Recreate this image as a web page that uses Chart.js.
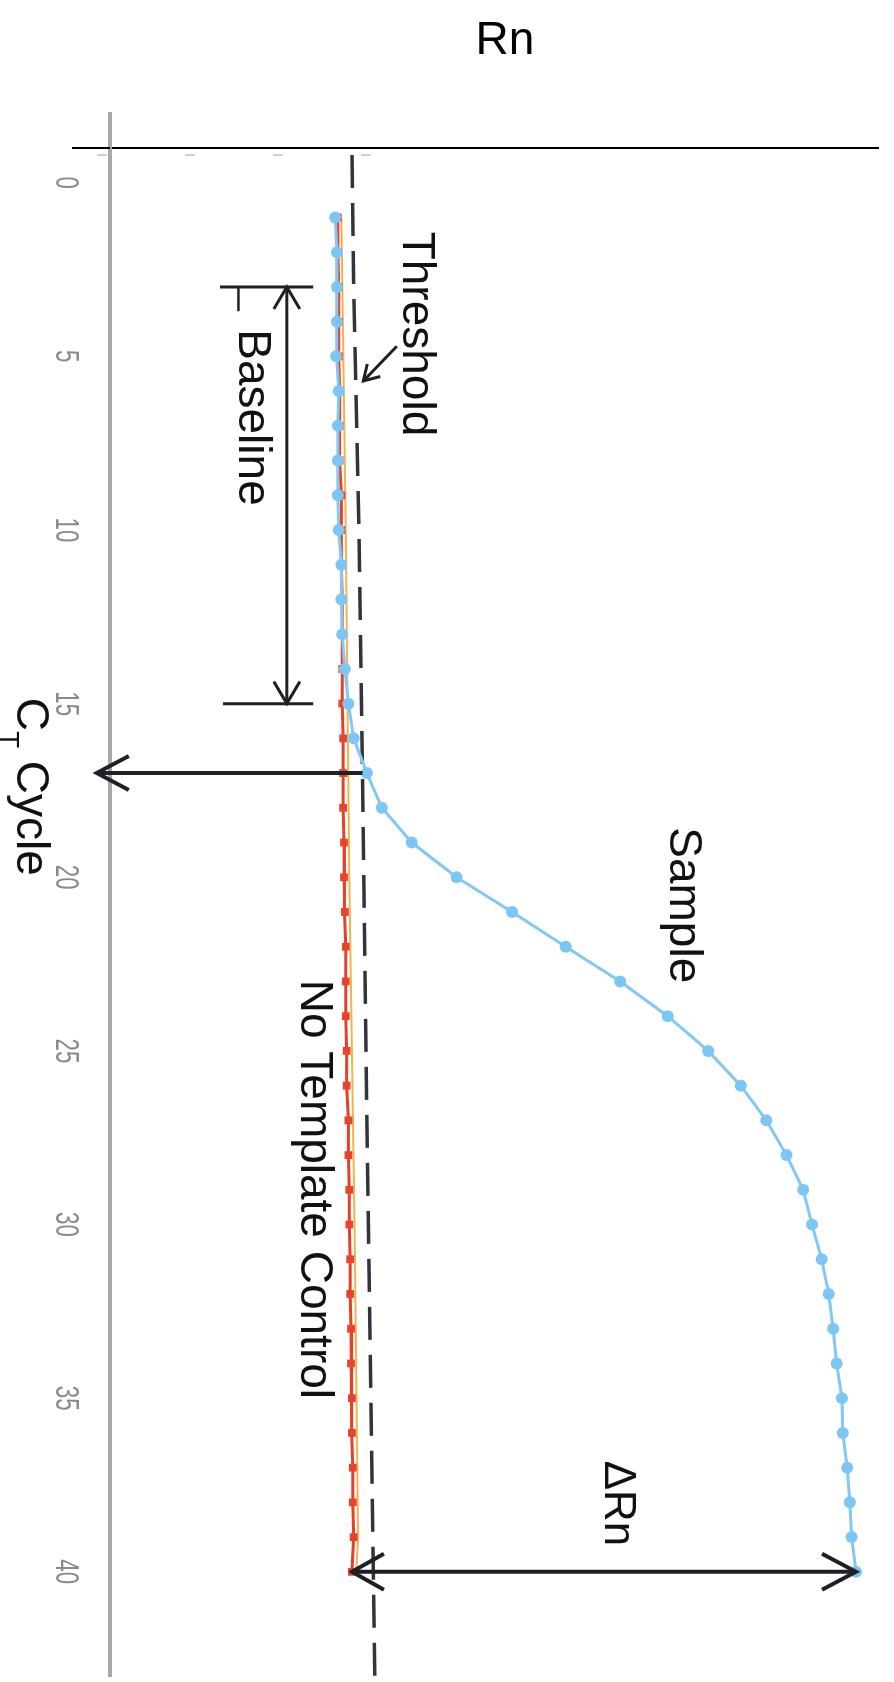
<!DOCTYPE html>
<html>
<head>
<meta charset="utf-8">
<script src="https://cdn.jsdelivr.net/npm/chart.js@4.4.1/dist/chart.umd.min.js"></script>
<style>
html,body{margin:0;padding:0;background:#fff;}
#wrap{width:894px;height:1682px;}
</style>
</head>
<body>
<div id="wrap"><canvas id="c" width="894" height="1682"></canvas></div>
<script>
// ---------- data ----------
const cycles = [1,2,3,4,5,6,7,8,9,10,11,12,13,14,15,16,17,18,19,20,
                21,22,23,24,25,26,27,28,29,30,31,32,33,34,35,36,37,38,39,40];
const sampleRn = [2.65,2.67,2.67,2.67,2.66,2.69,2.68,2.68,2.68,2.69,
                  2.72,2.72,2.73,2.76,2.80,2.86,3.01,3.18,3.52,4.03,
                  4.66,5.27,5.89,6.43,6.89,7.26,7.55,7.78,7.97,8.07,
                  8.18,8.26,8.31,8.35,8.41,8.42,8.47,8.50,8.52,8.57];
const ntcRn = [2.68,2.68,2.69,2.69,2.69,2.70,2.70,2.70,2.72,2.72,
               2.72,2.73,2.73,2.73,2.73,2.74,2.74,2.74,2.75,2.75,
               2.76,2.77,2.77,2.77,2.78,2.78,2.80,2.80,2.81,2.81,
               2.82,2.82,2.83,2.83,2.84,2.84,2.85,2.85,2.86,2.84];
const ntcEdgeCycles = [1,10,20,30,39,40];
const ntcEdgeRn = [2.72,2.77,2.81,2.87,2.91,2.89];
const thresholdCycles = [-1,3,10,17,27,34,43];
const thresholdRn = [2.84,2.86,2.92,2.96,3.01,3.05,3.10];
const cycleTicks = [0,5,10,15,20,25,30,35,40];
const rnTicks = [0,1,2,3];
const ctCycle = 17;
const baselineStart = 3, baselineEnd = 15;
const rnTitle = 'Rn';

const FONT = '"Liberation Sans", Arial, Helvetica, sans-serif';
const INK = '#1f1f26';

function pts(xs, ys){ return xs.map((c,i)=>({x:ys[i], y:c})); }

function vtext(ctx, str, x, y, size, color, align, squeeze){
  ctx.save();
  ctx.translate(x, y);
  ctx.rotate(Math.PI/2);
  if (squeeze) ctx.scale(squeeze, 1);
  ctx.font = size + 'px ' + FONT;
  ctx.fillStyle = color;
  ctx.textAlign = align || 'left';
  ctx.textBaseline = 'middle';
  ctx.fillText(str, 0, 0);
  ctx.restore();
}
function line(ctx, x1, y1, x2, y2, w, color){
  ctx.save();
  ctx.strokeStyle = color; ctx.lineWidth = w; ctx.lineCap = 'butt';
  ctx.beginPath(); ctx.moveTo(x1,y1); ctx.lineTo(x2,y2); ctx.stroke();
  ctx.restore();
}
function head(ctx, tx, ty, fx, fy, len, half, w){
  const a = Math.atan2(ty-fy, tx-fx);
  const bx = tx - len*Math.cos(a), by = ty - len*Math.sin(a);
  const nx = -Math.sin(a), ny = Math.cos(a);
  ctx.save();
  ctx.strokeStyle = INK; ctx.lineWidth = w; ctx.lineJoin = 'miter'; ctx.lineCap='butt';
  ctx.beginPath();
  ctx.moveTo(bx + half*nx, by + half*ny);
  ctx.lineTo(tx, ty);
  ctx.lineTo(bx - half*nx, by - half*ny);
  ctx.stroke();
  ctx.restore();
}

const decor = {
  id: 'decor',
  beforeDatasetsDraw(chart){
    const ctx = chart.ctx, a = chart.chartArea;
    const xs = chart.scales.x, ys = chart.scales.y;
    // axis title
    ctx.save();
    ctx.font = '46px ' + FONT; ctx.fillStyle = '#000';
    ctx.textAlign = 'center'; ctx.textBaseline = 'middle';
    ctx.fillText(rnTitle, xs.getPixelForValue(4.58), 41);
    ctx.restore();
    // axis extensions
    line(ctx, a.left, a.top - 36, a.left, a.top, 4, '#a8a8a8');
    line(ctx, a.left - 38, a.top, a.left, a.top, 2, '#000');
    // faint tick marks under the Rn axis
    rnTicks.forEach(v => {
      const x = xs.getPixelForValue(v);
      line(ctx, x - 5, a.top + 7, x + 5, a.top + 7, 2, '#d0d0d0');
    });
    // cycle tick labels (rotated)
    ys.ticks.forEach(t => {
      vtext(ctx, String(t.value), a.left - 45, ys.getPixelForValue(t.value), 33, '#8a8a8a', 'center', 0.68);
    });
  },
  afterDatasetsDraw(chart){
    const ctx = chart.ctx;
    const xs = chart.scales.x, ys = chart.scales.y;
    const X = v => xs.getPixelForValue(v), Y = v => ys.getPixelForValue(v);

    // Baseline bracket + double arrow
    line(ctx, X(1.34), Y(baselineStart), X(2.40), Y(baselineStart), 3, INK);
    line(ctx, X(1.375), Y(baselineEnd), X(2.40), Y(baselineEnd), 3, INK);
    line(ctx, X(1.55), Y(baselineStart), X(1.55), Y(baselineStart + 0.7), 2.5, INK);
    line(ctx, X(2.10), Y(baselineStart), X(2.10), Y(baselineEnd), 3, INK);
    head(ctx, X(2.10), Y(baselineStart), X(2.10), Y(baselineEnd), 22, 13, 3);
    head(ctx, X(2.10), Y(baselineEnd), X(2.10), Y(baselineStart), 22, 13, 3);
    vtext(ctx, 'Baseline', X(1.70), Y(4.22), 46, '#111', 'left');

    // Threshold label + pointer
    vtext(ctx, 'Threshold', X(3.57), Y(1.41), 46, '#111', 'left');
    line(ctx, X(3.35), Y(4.71), X(2.97), Y(5.71), 3, INK);
    head(ctx, X(2.97), Y(5.71), X(3.35), Y(4.71), 15, 9, 3);

    // Ct arrow
    const thAtCt = thresholdRn[thresholdCycles.indexOf(ctCycle)];
    line(ctx, X(thAtCt), Y(ctCycle), X(-0.06), Y(ctCycle), 4, INK);
    head(ctx, X(-0.06), Y(ctCycle), X(thAtCt), Y(ctCycle), 32, 17, 4);

    // C_T Cycle label
    ctx.save();
    ctx.translate(X(-0.82), Y(14.83));
    ctx.rotate(Math.PI/2);
    ctx.fillStyle = '#111'; ctx.textBaseline = 'middle'; ctx.textAlign = 'left';
    ctx.font = '46px ' + FONT;
    ctx.fillText('C', 0, 0);
    const wC = ctx.measureText('C').width;
    ctx.font = '28px ' + FONT;
    ctx.fillText('T', wC, 22);
    const wT = ctx.measureText('T').width;
    ctx.font = '46px ' + FONT;
    ctx.fillText(' Cycle', wC + wT, 0);
    ctx.restore();

    // Sample / NTC labels
    vtext(ctx, 'Sample', X(6.60), Y(18.56), 46, '#111', 'left');
    vtext(ctx, 'No Template Control', X(2.40), Y(22.95), 46, '#111', 'left');

    // Delta Rn arrow
    const last = cycles.length - 1;
    const yE = Y(cycles[last]);
    const xL = X(ntcRn[last]), xR = X(sampleRn[last]);
    line(ctx, xL, yE, xR, yE, 4, INK);
    head(ctx, xL, yE, xR, yE, 32, 18, 4);
    head(ctx, xR, yE, xL, yE, 34, 18, 4);
    vtext(ctx, '\u0394Rn', X(5.85), Y(36.8), 44, '#111', 'left');
  }
};

new Chart(document.getElementById('c'), {
  type: 'scatter',
  data: {
    datasets: [
      { label: 'Sample', data: pts(cycles, sampleRn), showLine: true,
        borderColor: '#82c8f6', borderWidth: 3, backgroundColor: '#7cc6f5',
        pointRadius: 6, pointBorderWidth: 0, pointStyle: 'circle', order: 1 },
      { label: 'No Template Control', data: pts(cycles, ntcRn), showLine: true,
        borderColor: '#e5402c', borderWidth: 3, backgroundColor: '#e8432d',
        pointRadius: 5.5, pointBorderWidth: 0, pointStyle: 'rect', order: 2 },
      { label: 'NTC edge', data: pts(ntcEdgeCycles, ntcEdgeRn), showLine: true,
        borderColor: '#f6b24a', borderWidth: 2, pointRadius: 0, order: 3 },
      { label: 'Threshold', data: pts(thresholdCycles, thresholdRn), showLine: true,
        borderColor: '#33333b', borderWidth: 3.5, borderDash: [33, 15], borderDashOffset: 41,
        pointRadius: 0, order: 4 }
    ]
  },
  options: {
    responsive: false,
    animation: false,
    devicePixelRatio: 1,
    layout: { padding: { left: 0, right: 16, top: 0, bottom: 0 } },
    plugins: { legend: { display: false }, tooltip: { enabled: false }, title: { display: false } },
    scales: {
      x: {
        type: 'linear', position: 'top', min: 0.09, max: 8.82,
        grid: { display: false },
        border: { display: true, color: '#000', width: 2 },
        ticks: { display: false },
        afterFit: s => { s.height = 148; }
      },
      y: {
        type: 'linear', position: 'left', reverse: true, min: -1, max: 43,
        grid: { display: false },
        border: { display: true, color: '#a8a8a8', width: 4 },
        ticks: { display: false },
        afterBuildTicks: s => { s.ticks = cycleTicks.map(v => ({ value: v })); },
        afterFit: s => { s.width = 110; }
      }
    }
  },
  plugins: [decor]
});
</script>
</body>
</html>
